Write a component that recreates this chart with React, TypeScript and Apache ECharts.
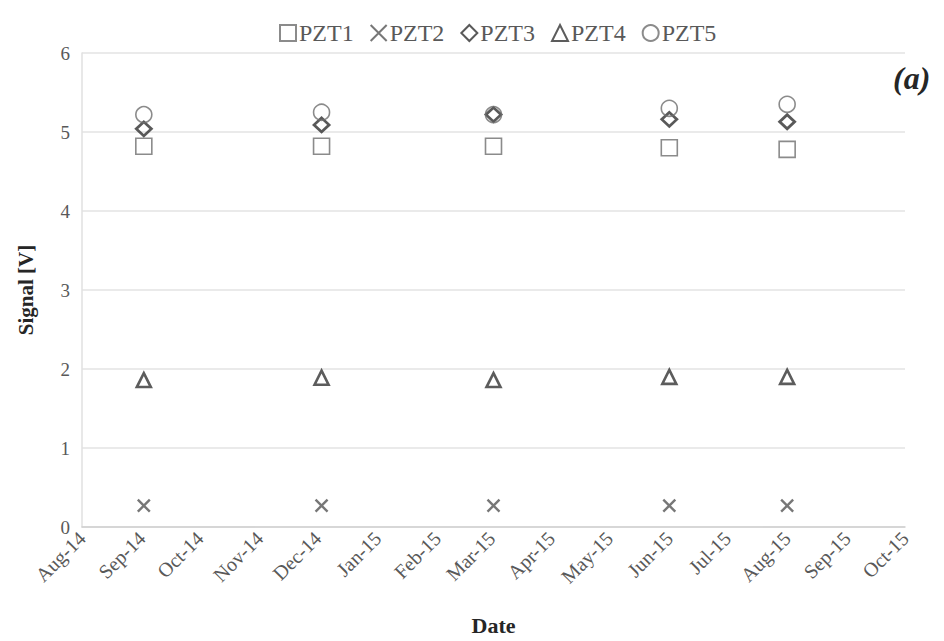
import React, { useEffect, useRef } from "react";
import * as echarts from "echarts";

const seriesNames = ["PZT1", "PZT2", "PZT3", "PZT4", "PZT5"];
const measureDates = ["2014-09-02", "2014-12-03", "2015-03-02", "2015-06-01", "2015-08-01"];
const pzt1 = [4.82, 4.82, 4.82, 4.8, 4.78];
const pzt2 = [0.27, 0.27, 0.27, 0.27, 0.27];
const pzt3 = [5.04, 5.09, 5.22, 5.16, 5.13];
const pzt4 = [1.86, 1.89, 1.86, 1.9, 1.9];
const pzt5 = [5.22, 5.25, 5.22, 5.3, 5.35];
const monthNames = ["Jan", "Feb", "Mar", "Apr", "May", "Jun", "Jul", "Aug", "Sep", "Oct", "Nov", "Dec"];
const axisStart = "2014-08-01";
const axisEnd = "2015-10-01";

const toTime = (s: string) => {
  const [y, m, d] = s.split("-").map(Number);
  return new Date(y, m - 1, d).getTime();
};

const FONT = "'Liberation Serif', 'Times New Roman', serif";

export default function App() {
  const ref = useRef<HTMLDivElement>(null);
  useEffect(() => {
    document.body.style.margin = "0";
    const chart = echarts.init(ref.current!, undefined, { renderer: "svg" });
    const values = [pzt1, pzt2, pzt3, pzt4, pzt5];
    const symbols = ["rect", "path://M0,0L10,10M10,0L0,10", "diamond", "triangle", "circle"];
    const sizes: any[] = [16, 12, [15, 14], 14, 16];
    const strokes = ["#6e6e6e", "#555555", "#2f2f2f", "#333333", "#6e6e6e"];
    const widths = [1.6, 2.4, 2.8, 2.6, 1.6];
    const series = seriesNames.map((name, i) => ({
      name,
      type: "scatter",
      symbol: symbols[i],
      symbolSize: sizes[i],
      itemStyle: {
        color: "rgba(255,255,255,0)",
        borderColor: strokes[i],
        borderWidth: widths[i],
      },
      data: measureDates.map((d, j) => [toTime(d), values[i][j]]),
    }));
    chart.setOption({
      animation: false,
      legend: {
        top: 16,
        left: 274,
        itemWidth: 16,
        itemHeight: 16,
        itemGap: 16,
        textStyle: { fontFamily: FONT, fontSize: 24, color: "#595959", padding: [0, 0, 0, -2] },
        data: seriesNames,
      },
      grid: { left: 82, right: 39, top: 53, bottom: 111 },
      xAxis: {
        type: "time",
        min: toTime(axisStart),
        max: toTime(axisEnd),
        splitNumber: 14,
        minInterval: 28 * 86400000,
        maxInterval: 31 * 86400000,
        name: "Date",
        nameLocation: "middle",
        nameGap: 87,
        nameTextStyle: { fontFamily: FONT, fontSize: 22, fontWeight: "bold", color: "#262626" },
        axisLine: { show: true, lineStyle: { color: "#d0d0d0", width: 1.5 } },
        axisTick: { show: false },
        splitLine: { show: false },
        axisLabel: {
          rotate: 45,
          margin: 8,
          hideOverlap: false,
          showMinLabel: true,
          showMaxLabel: true,
          fontFamily: FONT,
          fontSize: 20,
          color: "#595959",
          formatter: (v: number) => {
            const d = new Date(v);
            return `${monthNames[d.getMonth()]}-${String(d.getFullYear()).slice(2)}`;
          },
        },
      },
      yAxis: {
        type: "value",
        min: 0,
        max: 6,
        interval: 1,
        name: "Signal [V]",
        nameLocation: "middle",
        nameGap: 46,
        nameTextStyle: { fontFamily: FONT, fontSize: 21, fontWeight: "bold", color: "#262626" },
        axisLine: { show: true, lineStyle: { color: "#e0e0e0", width: 1.5 } },
        axisTick: { show: false },
        splitLine: { show: true, lineStyle: { color: "#e3e3e3", width: 1.5 } },
        axisLabel: { fontFamily: FONT, fontSize: 19, color: "#595959", margin: 12 },
      },
      graphic: [
        {
          type: "text",
          left: 893,
          top: 62,
          style: {
            text: "(a)",
            font: `italic bold 32px ${FONT}`,
            fill: "#262626",
          },
        },
      ],
      series,
    });
    return () => chart.dispose();
  }, []);
  return <div ref={ref} style={{ width: 944, height: 641 }} />;
}
